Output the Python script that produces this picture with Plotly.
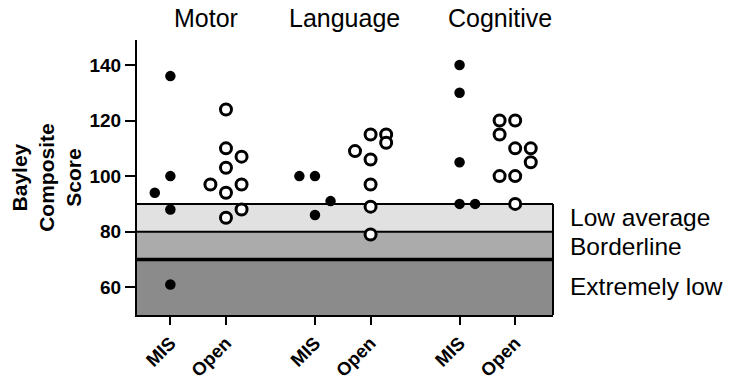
import plotly.graph_objects as go

# ---- data ----
group_titles = ["Motor", "Language", "Cognitive"]
tick_labels = ["MIS", "Open", "MIS", "Open", "MIS", "Open"]
positions = [1, 2, 3.6, 4.6, 6.2, 7.2]

motor_mis = [136, 100, 94, 88, 61]
motor_mis_col = [0, 0, -1, 0, 0]
motor_open = [124, 110, 107, 103, 97, 97, 94, 88, 85]
motor_open_col = [0, 0, 1, 0, -1, 1, 0, 1, 0]
lang_mis = [100, 100, 91, 86]
lang_mis_col = [-1, 0, 1, 0]
lang_open = [115, 115, 112, 109, 106, 97, 89, 79]
lang_open_col = [0, 1, 1, -1, 0, 0, 0, 0]
cog_mis = [140, 130, 105, 90, 90]
cog_mis_col = [0, 0, 0, 0, 1]
cog_open = [120, 120, 115, 110, 110, 105, 100, 100, 90]
cog_open_col = [-1, 0, -1, 0, 1, 1, -1, 0, 0]

bands = [  # (low, high, label)
    (80, 90, "Low average"),
    (70, 80, "Borderline"),
    (50, 70, "Extremely low"),
]
band_colors = ["#e1e1e1", "#ababab", "#8b8b8b"]

FONT = "Liberation Sans, Arial, Helvetica, sans-serif"
DODGE = 0.28

series = [
    (motor_mis, motor_mis_col, positions[0], True),
    (motor_open, motor_open_col, positions[1], False),
    (lang_mis, lang_mis_col, positions[2], True),
    (lang_open, lang_open_col, positions[3], False),
    (cog_mis, cog_mis_col, positions[4], True),
    (cog_open, cog_open_col, positions[5], False),
]

fig = go.Figure()
for vals, cols, pos, filled in series:
    xs = [pos + c * DODGE for c in cols]
    if filled:
        marker = dict(size=10.5, color="black", line=dict(width=0))
    else:
        marker = dict(size=11, color="white", line=dict(width=3, color="black"))
    fig.add_trace(go.Scatter(x=xs, y=vals, mode="markers", marker=marker,
                             showlegend=False, hoverinfo="y"))

# bands
for (lo, hi, lab), col in zip(bands, band_colors):
    fig.add_shape(type="rect", xref="paper", yref="y", x0=0, x1=1, y0=lo, y1=hi,
                  fillcolor=col, line=dict(width=0), layer="below")
for yv, w in [(90, 2), (80, 2), (70, 3.5)]:
    fig.add_shape(type="line", xref="paper", yref="y", x0=0, x1=1, y0=yv, y1=yv,
                  line=dict(color="black", width=w), layer="below")
fig.add_shape(type="line", xref="paper", yref="y", x0=1, x1=1, y0=50, y1=90,
              line=dict(color="black", width=2), layer="below")

band_label_y = [85.1, 74.5, 60.1]
for (lo, hi, lab), yv in zip(bands, band_label_y):
    fig.add_annotation(text=lab, xref="paper", yref="y", x=1.037, y=yv,
                       xanchor="left", yanchor="middle", showarrow=False,
                       font=dict(family=FONT, size=24.5, color="black"))

title_x = [1.64, 4.13, 6.92]
for t, xv in zip(group_titles, title_x):
    fig.add_annotation(text=t, xref="x", yref="paper", x=xv, y=1.08,
                       xanchor="center", yanchor="middle", showarrow=False,
                       font=dict(family=FONT, size=25, color="black"))

fig.add_annotation(text="<b>Bayley<br>Composite<br>Score</b>", xref="paper", yref="paper",
                   x=-0.218, y=0.5, textangle=-90, showarrow=False,
                   xanchor="center", yanchor="middle",
                   font=dict(family=FONT, size=21, color="black"))

fig.update_layout(
    width=732, height=384,
    margin=dict(l=137, r=179, t=40, b=69, autoexpand=False),
    paper_bgcolor="white", plot_bgcolor="white",
    font=dict(family=FONT, color="black"),
    xaxis=dict(range=[0.4, 7.88], tickvals=positions, ticktext=tick_labels,
               tickangle=-45, showline=True, linewidth=2, linecolor="black",
               ticks="outside", ticklen=8, tickwidth=2, tickcolor="black",
               showgrid=False, zeroline=False, automargin=False,
               tickfont=dict(family=FONT, size=18.5, color="black", weight="bold")),
    yaxis=dict(range=[50, 149], tickvals=[60, 80, 100, 120, 140],
               showline=True, linewidth=2, linecolor="black",
               ticks="outside", ticklen=10, tickwidth=2, tickcolor="black",
               showgrid=False, zeroline=False, automargin=False,
               tickfont=dict(family=FONT, size=19, color="black", weight="bold")),
)

fig.write_html("out.html")
